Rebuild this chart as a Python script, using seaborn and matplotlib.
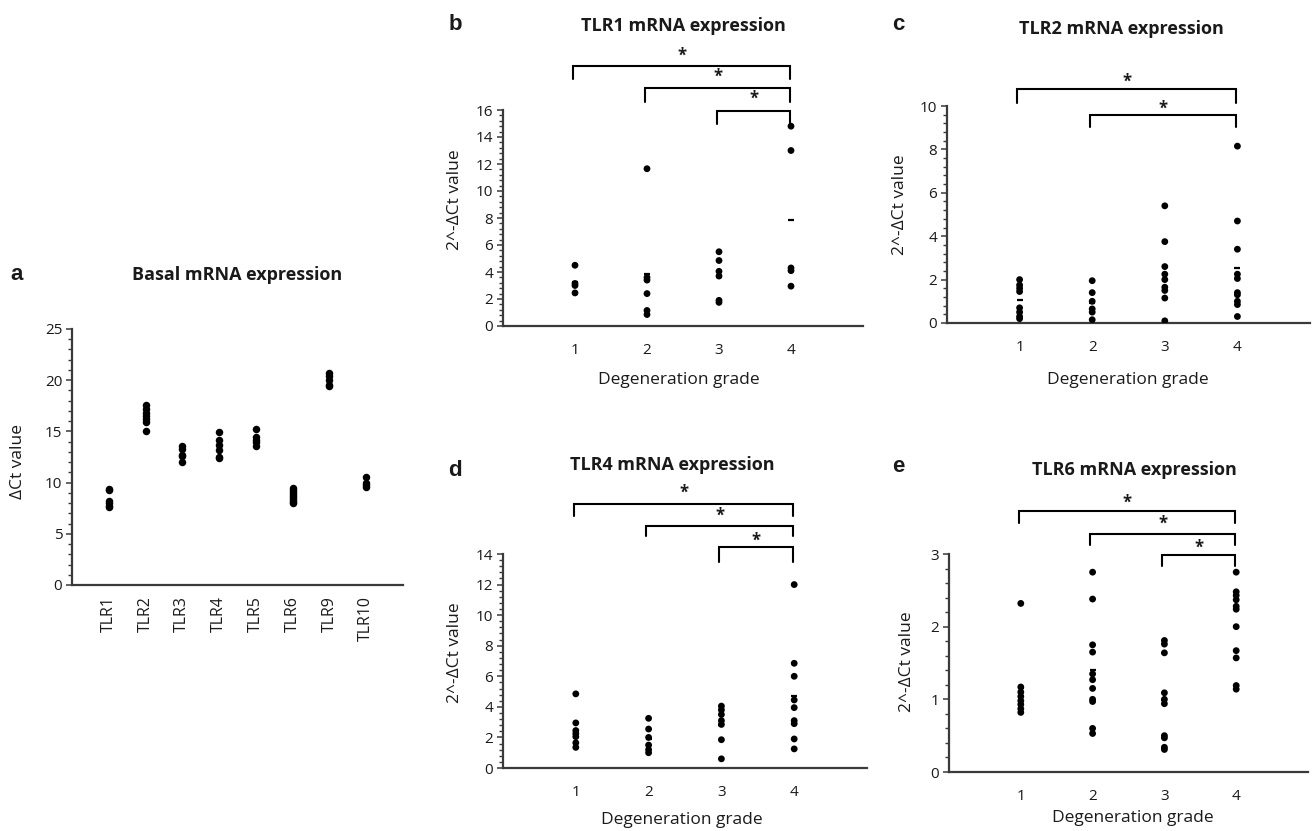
import numpy as np
import pandas as pd
import matplotlib
matplotlib.use('Agg')
import matplotlib.pyplot as plt
from matplotlib.ticker import MultipleLocator
import seaborn as sns

# ── Data ─────────────────────────────────────────────────────────────────────
TLR_NAMES = ['TLR1', 'TLR2', 'TLR3', 'TLR4', 'TLR5', 'TLR6', 'TLR9', 'TLR10']

BASAL_TLR1 = [9.4, 9.3, 8.2, 8.0, 7.7, 7.6]
BASAL_TLR2 = [17.6, 17.2, 16.8, 16.5, 16.2, 15.9, 15.0]
BASAL_TLR3 = [13.6, 13.3, 12.7, 12.6, 12.0]
BASAL_TLR4 = [14.9, 14.2, 13.7, 13.2, 12.5, 12.4]
BASAL_TLR5 = [15.2, 14.5, 14.2, 14.0, 13.6]
BASAL_TLR6 = [9.5, 9.3, 9.1, 8.9, 8.7, 8.5, 8.3, 8.1, 8.0]
BASAL_TLR9 = [20.7, 20.4, 20.0, 19.5, 19.4]
BASAL_TLR10 = [10.5, 10.0, 9.8, 9.6]

GRADES = [1, 2, 3, 4]

# 2^-dCt per degeneration grade 1..4
TLR1_EXPR = [[4.5, 3.15, 3.0, 2.45],
             [11.65, 3.6, 3.4, 2.4, 1.15, 0.85],
             [5.5, 4.85, 4.05, 3.7, 1.9, 1.75],
             [14.8, 13.0, 4.3, 4.1, 2.95]]
TLR2_EXPR = [[2.0, 1.75, 1.6, 1.45, 0.7, 0.5, 0.3, 0.2],
             [1.95, 1.4, 1.0, 0.65, 0.5, 0.15],
             [5.4, 3.75, 2.6, 2.25, 2.0, 1.65, 1.5, 1.15, 0.1],
             [8.15, 4.7, 3.4, 2.25, 2.05, 1.4, 1.3, 1.0, 0.85, 0.3]]
TLR4_EXPR = [[4.85, 2.95, 2.45, 2.25, 2.05, 1.65, 1.35],
             [3.25, 2.55, 2.0, 1.5, 1.2, 1.0],
             [4.05, 3.8, 3.5, 3.1, 2.85, 1.85, 0.6],
             [12.0, 6.85, 6.0, 4.45, 3.95, 3.1, 2.9, 1.9, 1.25]]
TLR6_EXPR = [[2.32, 1.17, 1.1, 1.04, 0.98, 0.93, 0.87, 0.82],
             [2.75, 2.38, 1.75, 1.65, 1.35, 1.27, 1.15, 1.0, 0.97, 0.6, 0.53],
             [1.81, 1.76, 1.64, 1.09, 1.0, 0.94, 0.5, 0.47, 0.34, 0.31],
             [2.75, 2.48, 2.43, 2.37, 2.28, 2.24, 2.0, 1.67, 1.57, 1.19, 1.14]]

# significant pairs (grade vs grade 4)
TLR1_SIG = [(1, 4), (2, 4), (3, 4)]
TLR2_SIG = [(1, 4), (2, 4)]
TLR4_SIG = [(1, 4), (2, 4), (3, 4)]
TLR6_SIG = [(1, 4), (2, 4), (3, 4)]

# ── Layout helpers (pixel coordinates of the 1312x831 canvas) ────────────────
W, H = 1312, 831
INK = '#1a1a1a'
AXC = '#3a3a3a'


def px_axes(fig, left, right, bottom, top):
    return fig.add_axes([left / W, (H - bottom) / H, (right - left) / W, (bottom - top) / H])


def ftext(fig, x, y, s, **kw):
    fig.text(x / W, 1 - y / H, s, ha='center', va='center', color=INK, **kw)


def style_axis(ax, ymax, major, minor):
    for side in ('top', 'right'):
        ax.spines[side].set_visible(False)
    for side in ('left', 'bottom'):
        ax.spines[side].set_linewidth(1.6)
        ax.spines[side].set_color(AXC)
    ax.set_ylim(0, ymax)
    ax.yaxis.set_major_locator(MultipleLocator(major))
    ax.yaxis.set_minor_locator(MultipleLocator(minor))
    ax.tick_params(axis='y', which='major', left=True, direction='out', length=4,
                   width=1.1, color=AXC, labelsize=11, pad=3, labelcolor=INK)
    ax.tick_params(axis='y', which='minor', left=True, direction='out', length=3,
                   width=1, color=AXC)
    ax.tick_params(axis='x', which='both', bottom=False, length=0, labelsize=11,
                   pad=12, labelcolor=INK)
    ax.set_xlabel('')
    ax.set_ylabel('')
    ax.grid(False)


def grade_panel(ax, groups, ymax, major, minor, sig, brackets):
    df = pd.DataFrame({
        'grade': np.repeat(GRADES, [len(g) for g in groups]),
        'value': np.concatenate(groups),
    })
    # group means are shown as a short dash, mostly hidden behind the dots
    means = df.groupby('grade', as_index=False)['value'].mean()
    ax.plot(means['grade'], means['value'], ls='none', marker='_', ms=5, mew=1.6,
            color='black', zorder=2)
    sns.scatterplot(data=df, x='grade', y='value', color='black', s=24,
                    edgecolor='none', legend=False, ax=ax, zorder=3)
    ax.set_xlim(0, 5)
    ax.set_xticks(GRADES)
    style_axis(ax, ymax, major, minor)
    for (g0, g1), (y_bar, y_leg, y_star) in zip(sig, brackets):
        ax.plot([g0 - 0.03, g0 - 0.03, g1 - 0.02, g1 - 0.02],
                [y_leg, y_bar, y_bar, y_leg], color='black', lw=1.5,
                clip_on=False, solid_joinstyle='miter')
        ax.text((g0 + g1) / 2 - 0.02, y_star, '*', ha='center', va='center',
                fontsize=12, fontweight='bold', color=INK, clip_on=False)


sns.set_style('ticks')
plt.rcParams['font.family'] = ['Open Sans', 'DejaVu Sans']

fig = plt.figure(figsize=(W / 100, H / 100), dpi=100)

# ── a: basal expression ──────────────────────────────────────────────────────
basal = [BASAL_TLR1, BASAL_TLR2, BASAL_TLR3, BASAL_TLR4,
         BASAL_TLR5, BASAL_TLR6, BASAL_TLR9, BASAL_TLR10]
df_a = pd.DataFrame({
    'receptor': np.repeat(TLR_NAMES, [len(v) for v in basal]),
    'dct': np.concatenate(basal),
})
ax_a = px_axes(fig, 72, 403, 585, 329)
sns.stripplot(data=df_a, x='receptor', y='dct', order=TLR_NAMES, jitter=False,
              color='black', size=5.4, linewidth=0, ax=ax_a)
ax_a.set_xlim(-1, 8)
style_axis(ax_a, 25, 5, 1)
ax_a.tick_params(axis='x', labelrotation=90, pad=8, labelsize=11.5)

# ── b-e: expression by degeneration grade ────────────────────────────────────
ax_b = px_axes(fig, 503, 863, 326, 110)
grade_panel(ax_b, TLR1_EXPR, 16, 2, 0.4, TLR1_SIG,
            [(19.27, 18.3, 20.0), (17.6, 16.6, 18.5), (15.9, 15.0, 16.8)])

ax_c = px_axes(fig, 947, 1310, 323, 106)
grade_panel(ax_c, TLR2_EXPR, 10, 2, 0.4, TLR2_SIG,
            [(10.78, 10.14, 11.1), (9.58, 9.03, 9.86)])

ax_d = px_axes(fig, 503, 867, 768, 554)
grade_panel(ax_d, TLR4_EXPR, 14, 2, 0.4, TLR4_SIG,
            [(17.25, 16.5, 18.0), (15.8, 15.2, 16.5), (14.45, 13.5, 14.9)])

ax_e = px_axes(fig, 949, 1308, 772, 554)
grade_panel(ax_e, TLR6_EXPR, 3, 1, 0.2, TLR6_SIG,
            [(3.59, 3.42, 3.71), (3.27, 3.13, 3.42), (2.98, 2.83, 3.09)])

# ── Titles, panel letters and axis labels ────────────────────────────────────
title_kw = dict(fontsize=13, fontweight='bold')
ftext(fig, 237, 275, 'Basal mRNA expression', **title_kw)
ftext(fig, 683, 26, 'TLR1 mRNA expression', **title_kw)
ftext(fig, 1121, 29, 'TLR2 mRNA expression', **title_kw)
ftext(fig, 672, 465, 'TLR4 mRNA expression', **title_kw)
ftext(fig, 1134, 470, 'TLR6 mRNA expression', **title_kw)

letter_kw = dict(fontsize=16, fontweight='bold', family='Liberation Sans')
ftext(fig, 17, 274, 'a', **letter_kw)
ftext(fig, 455, 25, 'b', **letter_kw)
ftext(fig, 898, 25, 'c', **letter_kw)
ftext(fig, 455, 470, 'd', **letter_kw)
ftext(fig, 898, 466, 'e', **letter_kw)

label_kw = dict(fontsize=12.5)
ftext(fig, 18, 461, 'ΔCt value', rotation=90, **label_kw)
ftext(fig, 455, 200, '2^-ΔCt value', rotation=90, **label_kw)
ftext(fig, 900, 205, '2^-ΔCt value', rotation=90, **label_kw)
ftext(fig, 455, 653, '2^-ΔCt value', rotation=90, **label_kw)
ftext(fig, 907, 662, '2^-ΔCt value', rotation=90, **label_kw)
ftext(fig, 679, 380, 'Degeneration grade', **label_kw)
ftext(fig, 1128, 380, 'Degeneration grade', **label_kw)
ftext(fig, 682, 820, 'Degeneration grade', **label_kw)
ftext(fig, 1133, 818, 'Degeneration grade', **label_kw)

fig.savefig('out.png', dpi=100)
